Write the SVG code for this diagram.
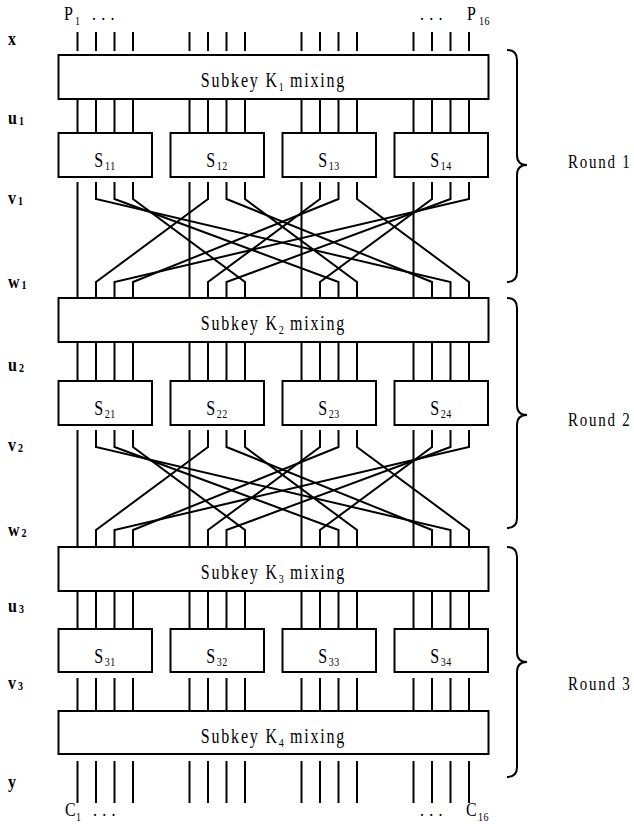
<svg xmlns="http://www.w3.org/2000/svg" width="634" height="828" viewBox="0 0 634 828">
<style>
.bx{fill:#fff;stroke:#000;stroke-width:2}
.w{fill:none;stroke:#000;stroke-width:2;stroke-linejoin:miter}
.br{fill:none;stroke:#000;stroke-width:2}
.t{font-family:"Liberation Serif","Times New Roman",serif;font-size:16px;letter-spacing:1.8px;fill:#000}
.r{font-family:"Liberation Serif","Times New Roman",serif;font-size:15px;letter-spacing:1.75px;fill:#000}
.s{font-size:10px;letter-spacing:0.5px}
.d{font-family:"Liberation Serif","Times New Roman",serif;font-size:16px;letter-spacing:0.6px;fill:#000}
.d.ds{font-size:10px;letter-spacing:0.5px}
.lb{font-family:"Liberation Serif","Times New Roman",serif;font-weight:bold;font-size:16px;fill:#000}
.ls{font-size:10px}
</style>
<rect width="634" height="828" fill="#fff"/>

<g id="connectors">
  <path class="w" d="M77.5 32V51M96 32V51M114.5 32V51M133 32V51M189.5 32V51M208 32V51M226.5 32V51M245 32V51M301.5 32V51M320 32V51M338.5 32V51M357 32V51M413.5 32V51M432 32V51M450.5 32V51M469 32V51"/>
  <path class="w" d="M77.5 99V133M96 99V133M114.5 99V133M133 99V133M189.5 99V133M208 99V133M226.5 99V133M245 99V133M301.5 99V133M320 99V133M338.5 99V133M357 99V133M413.5 99V133M432 99V133M450.5 99V133M469 99V133"/>
  <g id="perm1">
    <path class="w" d="M77.5 182V298"/>
    <path class="w" d="M96 182V199L450.5 282V298"/>
    <path class="w" d="M114.5 182V199L338.5 282V298"/>
    <path class="w" d="M133 182V199L245 282V298"/>
    <path class="w" d="M189.5 182V298"/>
    <path class="w" d="M208 182V199L96 282V298"/>
    <path class="w" d="M226.5 182V199L432 282V298"/>
    <path class="w" d="M245 182V199L357 282V298"/>
    <path class="w" d="M301.5 182V298"/>
    <path class="w" d="M320 182V199L208 282V298"/>
    <path class="w" d="M338.5 182V199L133 282V298"/>
    <path class="w" d="M357 182V199L469 282V298"/>
    <path class="w" d="M413.5 182V298"/>
    <path class="w" d="M432 182V199L320 282V298"/>
    <path class="w" d="M450.5 182V199L226.5 282V298"/>
    <path class="w" d="M469 182V199L114.5 282V298"/>
  </g>
  <path class="w" d="M77.5 342V381M96 342V381M114.5 342V381M133 342V381M189.5 342V381M208 342V381M226.5 342V381M245 342V381M301.5 342V381M320 342V381M338.5 342V381M357 342V381M413.5 342V381M432 342V381M450.5 342V381M469 342V381"/>
  <g id="perm2">
    <path class="w" d="M77.5 430V546"/>
    <path class="w" d="M96 430V447L450.5 530V546"/>
    <path class="w" d="M114.5 430V447L338.5 530V546"/>
    <path class="w" d="M133 430V447L245 530V546"/>
    <path class="w" d="M189.5 430V546"/>
    <path class="w" d="M208 430V447L96 530V546"/>
    <path class="w" d="M226.5 430V447L432 530V546"/>
    <path class="w" d="M245 430V447L357 530V546"/>
    <path class="w" d="M301.5 430V546"/>
    <path class="w" d="M320 430V447L208 530V546"/>
    <path class="w" d="M338.5 430V447L133 530V546"/>
    <path class="w" d="M357 430V447L469 530V546"/>
    <path class="w" d="M413.5 430V546"/>
    <path class="w" d="M432 430V447L320 530V546"/>
    <path class="w" d="M450.5 430V447L226.5 530V546"/>
    <path class="w" d="M469 430V447L114.5 530V546"/>
  </g>
  <path class="w" d="M77.5 591V629M96 591V629M114.5 591V629M133 591V629M189.5 591V629M208 591V629M226.5 591V629M245 591V629M301.5 591V629M320 591V629M338.5 591V629M357 591V629M413.5 591V629M432 591V629M450.5 591V629M469 591V629"/>
  <path class="w" d="M77.5 678V711M96 678V711M114.5 678V711M133 678V711M189.5 678V711M208 678V711M226.5 678V711M245 678V711M301.5 678V711M320 678V711M338.5 678V711M357 678V711M413.5 678V711M432 678V711M450.5 678V711M469 678V711"/>
  <path class="w" d="M77.5 761V803M96 761V803M114.5 761V803M133 761V803M189.5 761V803M208 761V803M226.5 761V803M245 761V803M301.5 761V803M320 761V803M338.5 761V803M357 761V803M413.5 761V803M432 761V803M450.5 761V803M469 761V803"/>
</g>

<g id="K1"><rect class="bx" x="58.5" y="55" width="430" height="44"/>
<text class="t" text-anchor="middle" transform="translate(273.5,87) scale(1,1.3)">Subkey K<tspan class="s" dy="3">1</tspan><tspan dy="-3"> mixing</tspan></text></g>
<g id="K2"><rect class="bx" x="58.5" y="298" width="430" height="44"/>
<text class="t" text-anchor="middle" transform="translate(273.5,330) scale(1,1.3)">Subkey K<tspan class="s" dy="3">2</tspan><tspan dy="-3"> mixing</tspan></text></g>
<g id="K3"><rect class="bx" x="58.5" y="547" width="430" height="44"/>
<text class="t" text-anchor="middle" transform="translate(273.5,579) scale(1,1.3)">Subkey K<tspan class="s" dy="3">3</tspan><tspan dy="-3"> mixing</tspan></text></g>
<g id="K4"><rect class="bx" x="58.5" y="711" width="430" height="43"/>
<text class="t" text-anchor="middle" transform="translate(273.5,743) scale(1,1.3)">Subkey K<tspan class="s" dy="3">4</tspan><tspan dy="-3"> mixing</tspan></text></g>

<g id="S11"><rect class="bx" x="58.5" y="133" width="93.5" height="44"/><text class="t" text-anchor="middle" transform="translate(105,167) scale(1,1.3)">S<tspan class="s" dy="2">11</tspan></text></g>
<g id="S12"><rect class="bx" x="170.5" y="133" width="93.5" height="44"/><text class="t" text-anchor="middle" transform="translate(217,167) scale(1,1.3)">S<tspan class="s" dy="2">12</tspan></text></g>
<g id="S13"><rect class="bx" x="282.5" y="133" width="93.5" height="44"/><text class="t" text-anchor="middle" transform="translate(329,167) scale(1,1.3)">S<tspan class="s" dy="2">13</tspan></text></g>
<g id="S14"><rect class="bx" x="394.5" y="133" width="93.5" height="44"/><text class="t" text-anchor="middle" transform="translate(441,167) scale(1,1.3)">S<tspan class="s" dy="2">14</tspan></text></g>

<g id="S21"><rect class="bx" x="58.5" y="381" width="93.5" height="44"/><text class="t" text-anchor="middle" transform="translate(105,415) scale(1,1.3)">S<tspan class="s" dy="2">21</tspan></text></g>
<g id="S22"><rect class="bx" x="170.5" y="381" width="93.5" height="44"/><text class="t" text-anchor="middle" transform="translate(217,415) scale(1,1.3)">S<tspan class="s" dy="2">22</tspan></text></g>
<g id="S23"><rect class="bx" x="282.5" y="381" width="93.5" height="44"/><text class="t" text-anchor="middle" transform="translate(329,415) scale(1,1.3)">S<tspan class="s" dy="2">23</tspan></text></g>
<g id="S24"><rect class="bx" x="394.5" y="381" width="93.5" height="44"/><text class="t" text-anchor="middle" transform="translate(441,415) scale(1,1.3)">S<tspan class="s" dy="2">24</tspan></text></g>

<g id="S31"><rect class="bx" x="58.5" y="629" width="93.5" height="43"/><text class="t" text-anchor="middle" transform="translate(105,663) scale(1,1.3)">S<tspan class="s" dy="2">31</tspan></text></g>
<g id="S32"><rect class="bx" x="170.5" y="629" width="93.5" height="43"/><text class="t" text-anchor="middle" transform="translate(217,663) scale(1,1.3)">S<tspan class="s" dy="2">32</tspan></text></g>
<g id="S33"><rect class="bx" x="282.5" y="629" width="93.5" height="43"/><text class="t" text-anchor="middle" transform="translate(329,663) scale(1,1.3)">S<tspan class="s" dy="2">33</tspan></text></g>
<g id="S34"><rect class="bx" x="394.5" y="629" width="93.5" height="43"/><text class="t" text-anchor="middle" transform="translate(441,663) scale(1,1.3)">S<tspan class="s" dy="2">34</tspan></text></g>

<g id="io-labels">
  <text class="d" transform="translate(64,20) scale(1,1.2)">P</text>
  <text class="d ds" transform="translate(75,25) scale(1,1.2)">1</text>
  <text class="d" transform="translate(92,20) scale(1,1.2)">. . .</text>
  <text class="d" transform="translate(420,20) scale(1,1.2)">. . .</text>
  <text class="d" transform="translate(467,20) scale(1,1.2)">P</text>
  <text class="d ds" transform="translate(479,25) scale(1,1.2)">16</text>
  <text class="d" transform="translate(65,816) scale(1,1.2)">C</text>
  <text class="d ds" transform="translate(76,821) scale(1,1.2)">1</text>
  <text class="d" transform="translate(93,816) scale(1,1.2)">. . .</text>
  <text class="d" transform="translate(420,816) scale(1,1.2)">. . .</text>
  <text class="d" transform="translate(466,816) scale(1,1.2)">C</text>
  <text class="d ds" transform="translate(478,821) scale(1,1.2)">16</text>
</g>

<g id="row-labels">
  <text class="lb" transform="translate(8,45) scale(1,1.15)">x</text>
  <text class="lb" transform="translate(8,124) scale(1,1.15)">u<tspan class="ls" dx="2" dy="1">1</tspan></text>
  <text class="lb" transform="translate(8,204) scale(1,1.15)">v<tspan class="ls" dx="2" dy="1">1</tspan></text>
  <text class="lb" transform="translate(8,288) scale(1,1.15)">w<tspan class="ls" dx="2" dy="1">1</tspan></text>
  <text class="lb" transform="translate(8,371) scale(1,1.15)">u<tspan class="ls" dx="2" dy="1">2</tspan></text>
  <text class="lb" transform="translate(8,451) scale(1,1.15)">v<tspan class="ls" dx="2" dy="1">2</tspan></text>
  <text class="lb" transform="translate(8,536) scale(1,1.15)">w<tspan class="ls" dx="2" dy="1">2</tspan></text>
  <text class="lb" transform="translate(8,612) scale(1,1.15)">u<tspan class="ls" dx="2" dy="1">3</tspan></text>
  <text class="lb" transform="translate(8,689) scale(1,1.15)">v<tspan class="ls" dx="2" dy="1">3</tspan></text>
  <text class="lb" transform="translate(8,788) scale(1,1.15)">y</text>
</g>

<g id="round1">
  <path class="br" d="M507 50Q517 50 517 60V155Q517 165 527 165Q517 165 517 175V272Q517 282 507 282"/>
  <text class="r" transform="translate(568,168) scale(1,1.2)">Round 1</text>
</g>
<g id="round2">
  <path class="br" d="M507 298Q517 298 517 308V405Q517 415 527 415Q517 415 517 425V518Q517 528 507 528"/>
  <text class="r" transform="translate(568,426) scale(1,1.2)">Round 2</text>
</g>
<g id="round3">
  <path class="br" d="M507 547Q517 547 517 557V652Q517 662 527 662Q517 662 517 672V767Q517 777 507 777"/>
  <text class="r" transform="translate(568,690) scale(1,1.2)">Round 3</text>
</g>
</svg>
